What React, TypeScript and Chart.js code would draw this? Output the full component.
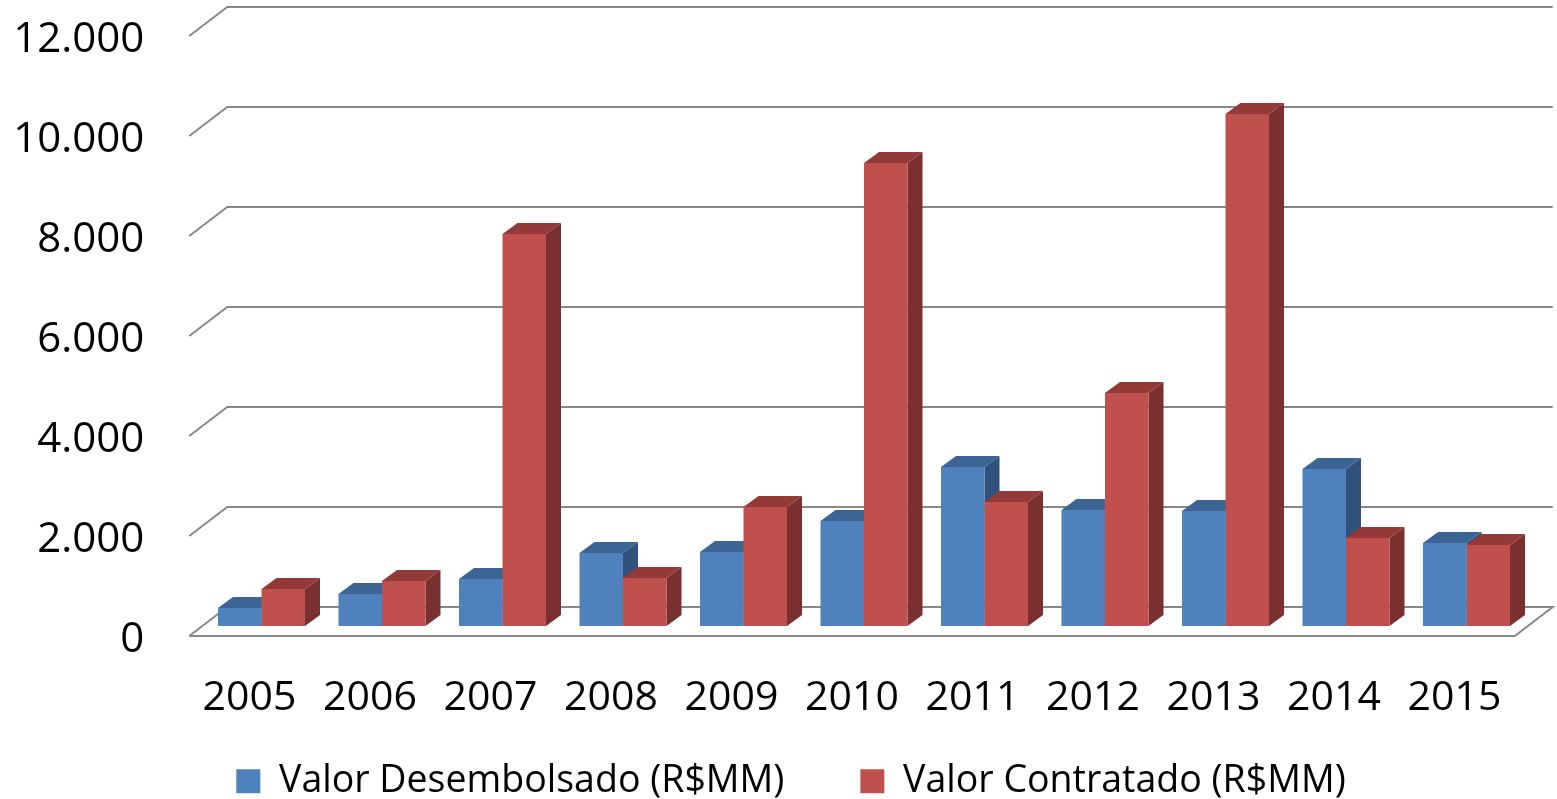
import React, { useEffect, useRef } from 'react';
import { Chart, registerables } from 'chart.js';

Chart.register(...registerables);

// ---- data ----
const years = ['2005', '2006', '2007', '2008', '2009', '2010', '2011', '2012', '2013', '2014', '2015'];
const desembolsado = [360, 640, 940, 1460, 1480, 2100, 3180, 2320, 2300, 3140, 1660];
const contratado = [740, 900, 7840, 960, 2380, 9260, 2480, 4660, 10240, 1760, 1620];
const yTickValues = [0, 2000, 4000, 6000, 8000, 10000, 12000];
const seriesNames = ['Valor Desembolsado (R$MM)', 'Valor Contratado (R$MM)'];

// ---- styles ----
const FONT = 'Open Sans';
const FRONT_COLORS = ['#4F81BD', '#C0504D'];
const TOP_COLORS = ['#3C6593', '#933A38'];
const SIDE_COLORS = ['#30527C', '#7B3030'];
const GRID_COLOR = '#888888';
const DEPTH = { dx: 15, dy: -11 };
const FRONT = { dx: -12, dy: 10 };
const BACK = { dx: 26, dy: -19 };
const CANVAS_H = 810;
const LEGEND_FONT = 37.5;
const LEGEND_PAD = 76;
const PLOT_BOTTOM = 626;
const PLOT_LEFT = 201.25;
const PAD_LEFT = 55.25;
const PAD_RIGHT = 30.25;

const fmt = (v: number) => String(v).replace(/\B(?=(\d{3})+(?!\d))/g, '.');

const threeD = {
  id: 'threeD',
  beforeDraw(chart: any) {
    const xs = chart.scales.x;
    const ys = chart.scales.y;
    if (xs) xs._computeLabelArea = () => undefined;
    if (ys) ys._computeLabelArea = () => undefined;
  },
  beforeDatasetsDraw(chart: any) {
    const { ctx, chartArea } = chart;
    const ys = chart.scales.y;
    const { left, right } = chartArea;
    ctx.save();
    ctx.strokeStyle = GRID_COLOR;
    ctx.lineWidth = 2;
    ctx.lineJoin = 'miter';
    yTickValues.forEach((v) => {
      const py = ys.getPixelForValue(v);
      ctx.beginPath();
      ctx.moveTo(left + FRONT.dx, py + FRONT.dy);
      ctx.lineTo(left + BACK.dx, py + BACK.dy);
      ctx.lineTo(right + BACK.dx, py + BACK.dy);
      if (v === 0) {
        ctx.lineTo(right + FRONT.dx, py + FRONT.dy);
        ctx.lineTo(left + FRONT.dx, py + FRONT.dy);
      }
      ctx.stroke();
    });
    const metas = chart.data.datasets.map((_: any, d: number) => chart.getDatasetMeta(d));
    for (let i = 0; i < years.length; i++) {
      metas.forEach((meta: any, d: number) => {
        const el = meta.data[i];
        if (!el) return;
        const p = el.getProps(['x', 'y', 'base', 'width'], true);
        const l = p.x - p.width / 2;
        const r = p.x + p.width / 2;
        const t = p.y;
        const b = p.base;
        ctx.fillStyle = SIDE_COLORS[d];
        ctx.beginPath();
        ctx.moveTo(r, t);
        ctx.lineTo(r + DEPTH.dx, t + DEPTH.dy);
        ctx.lineTo(r + DEPTH.dx, b + DEPTH.dy);
        ctx.lineTo(r, b);
        ctx.closePath();
        ctx.fill();
        ctx.fillStyle = TOP_COLORS[d];
        ctx.beginPath();
        ctx.moveTo(l, t);
        ctx.lineTo(r, t);
        ctx.lineTo(r + DEPTH.dx, t + DEPTH.dy);
        ctx.lineTo(l + DEPTH.dx, t + DEPTH.dy);
        ctx.closePath();
        ctx.fill();
      });
    }
    ctx.restore();
  },
};

function ChartView() {
  const ref = useRef<HTMLCanvasElement | null>(null);
  useEffect(() => {
    let chart: Chart | null = null;
    let cancelled = false;
    const make = () => {
      if (cancelled || !ref.current) return;
      chart = new Chart(ref.current, {
        type: 'bar',
        data: {
          labels: years,
          datasets: [
            {
              label: seriesNames[0],
              data: desembolsado,
              backgroundColor: FRONT_COLORS[0],
              borderWidth: 0,
              categoryPercentage: 0.722,
              barPercentage: 1,
            },
            {
              label: seriesNames[1],
              data: contratado,
              backgroundColor: FRONT_COLORS[1],
              borderWidth: 0,
              categoryPercentage: 0.722,
              barPercentage: 1,
            },
          ],
        },
        options: {
          responsive: false,
          animation: false,
          devicePixelRatio: 1,
          layout: { padding: { left: PAD_LEFT, right: PAD_RIGHT, top: 26, bottom: 0 } },
          plugins: {
            legend: {
              position: 'bottom',
              labels: {
                boxWidth: 24,
                boxHeight: 24,
                padding: LEGEND_PAD,
                color: '#000',
                font: { family: FONT, size: LEGEND_FONT },
              },
            },
            tooltip: { enabled: false },
          },
          scales: {
            x: {
              grid: { display: false, drawTicks: false },
              border: { display: false },
              ticks: {
                color: '#000',
                font: { family: FONT, size: 41 },
                padding: 48,
                labelOffset: -12,
                maxRotation: 0,
                autoSkip: false,
              },
              afterFit: (s: any) => {
                s.height = CANVAS_H - (LEGEND_FONT + LEGEND_PAD + 10) - PLOT_BOTTOM;
                s.paddingLeft = 0;
                s.paddingRight = 0;
              },
            },
            y: {
              min: 0,
              max: 12000,
              grid: { display: false, drawTicks: false },
              border: { display: false },
              afterBuildTicks: (s: any) => {
                s.ticks = yTickValues.map((v) => ({ value: v }));
              },
              ticks: {
                color: '#000',
                font: { family: FONT, size: 42 },
                padding: 57,
                labelOffset: 14,
                callback: (v: any) => fmt(Number(v)),
              },
              afterFit: (s: any) => {
                s.width = PLOT_LEFT - PAD_LEFT;
                s.paddingTop = 0;
                s.paddingBottom = 0;
              },
            },
          },
        },
        plugins: [threeD],
      } as any);
    };
    const fonts: any = (document as any).fonts;
    if (fonts && fonts.load) {
      Promise.all([fonts.load(`41px "${FONT}"`), fonts.load(`36px "${FONT}"`)])
        .catch(() => null)
        .then(make);
    } else {
      make();
    }
    return () => {
      cancelled = true;
      if (chart) chart.destroy();
    };
  }, []);
  return <canvas ref={ref} width={1557} height={CANVAS_H} style={{ display: 'block' }} />;
}

export default function App() {
  return (
    <div
      style={{
        position: 'fixed',
        left: 0,
        top: 0,
        width: 1557,
        height: 799,
        overflow: 'hidden',
        background: '#fff',
      }}
    >
      <ChartView />
    </div>
  );
}
